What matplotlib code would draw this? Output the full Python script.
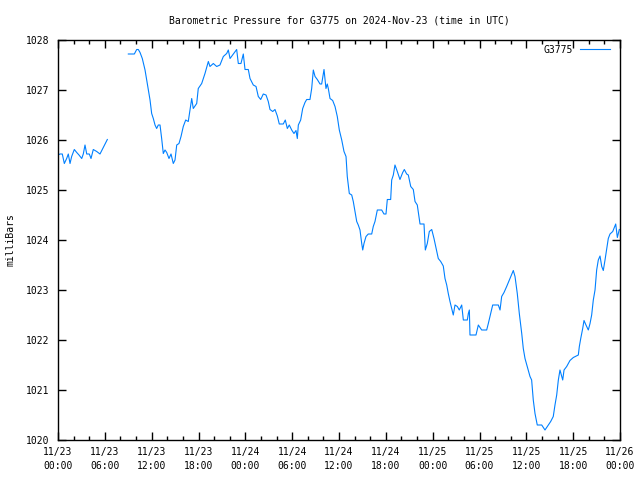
import numpy as np
import pandas as pd
import matplotlib
matplotlib.use("Agg")
import matplotlib.pyplot as plt
import matplotlib.dates as mdates

# hours since 2024-11-23 00:00 UTC, pressure in mbar (NaN = gap in record)
hours = [0.0, 0.26, 0.55, 0.81, 1.11, 1.32, 1.54, 1.75, 2.09, 2.40, 2.69, 3.04, 3.24,
         3.46, 3.68, 4.01, 4.23, 4.52, 4.96, 5.38, 5.80, 6.32,
         7.5,
         9.01, 9.78, 10.08, 10.29, 10.51, 10.80, 11.15, 11.36, 11.57, 11.79, 12.00, 12.21,
         12.43, 12.64, 12.85, 13.07, 13.28, 13.49, 13.71, 13.93, 14.22, 14.48, 14.77,
         14.99, 15.21, 15.50, 15.76, 16.05, 16.36, 16.69, 16.91, 17.13, 17.33, 17.77,
         17.97, 18.41, 18.83, 19.26, 19.47, 19.90, 20.33, 20.75, 21.18, 21.61, 21.82,
         22.04, 22.46, 22.89, 23.10, 23.44, 23.74, 23.96, 24.38, 24.60, 25.02, 25.37,
         25.66, 25.97, 26.30, 26.65, 26.94, 27.16, 27.51, 27.80, 28.10, 28.35, 28.86,
         29.12, 29.38, 29.63, 29.94, 30.23, 30.49, 30.66, 30.79, 31.09, 31.35, 31.64,
         31.86, 32.28, 32.50, 32.71, 32.93, 33.22, 33.57, 33.78, 34.08, 34.33, 34.50,
         34.63, 34.85, 35.19, 35.49, 35.78, 36.04, 36.35, 36.64, 36.90, 37.06, 37.32,
         37.63, 37.83, 38.05, 38.27, 38.47, 38.69, 38.91, 39.04, 39.20, 39.46, 39.75,
         40.19, 40.39, 40.61, 40.91, 41.47, 41.76, 42.02, 42.19, 42.62, 42.75, 42.96,
         43.17, 43.47, 43.81, 44.16, 44.37, 44.67, 44.88, 45.19, 45.52, 45.74, 46.03,
         46.38, 46.89, 47.06, 47.31, 47.57, 47.88, 48.17, 48.52, 48.72, 49.03, 49.36,
         49.58, 49.80, 50.00, 50.22, 50.44, 50.64, 50.86, 51.16, 51.41, 51.72, 51.93,
         52.44, 52.57, 52.70, 52.78, 53.55, 53.85, 54.28, 54.92, 55.13, 55.43, 55.69,
         56.41, 56.63, 56.84, 57.14, 57.48, 57.91, 58.33, 58.55, 58.84, 59.10, 59.41,
         59.61, 59.83, 60.12, 60.47, 60.68, 60.89, 61.11, 61.40, 61.97, 62.39, 62.81,
         63.12, 63.45, 63.67, 63.89, 64.10, 64.31, 64.66, 64.83, 65.17, 65.59, 66.02,
         66.66, 66.79, 66.97, 67.22, 67.39, 67.64, 67.94, 68.16, 68.37, 68.58, 68.80,
         69.01, 69.22, 69.44, 69.66, 69.86, 70.08, 70.30, 70.50, 70.72, 71.07, 71.27,
         71.45, 71.66, 71.91]

pressure = [1025.70, 1025.72, 1025.72, 1025.53, 1025.63, 1025.72, 1025.53, 1025.67, 1025.81,
            1025.75, 1025.70, 1025.63, 1025.72, 1025.90, 1025.72, 1025.72, 1025.63, 1025.81,
            1025.77, 1025.72, 1025.85, 1026.01,
            np.nan,
            1027.72, 1027.72, 1027.81, 1027.81, 1027.75, 1027.63, 1027.40, 1027.20, 1027.00,
            1026.80, 1026.53, 1026.43, 1026.30, 1026.23, 1026.30, 1026.30, 1026.03, 1025.73,
            1025.80, 1025.75, 1025.63, 1025.72, 1025.53, 1025.60, 1025.90, 1025.93, 1026.07,
            1026.27, 1026.40, 1026.37, 1026.60, 1026.83, 1026.63, 1026.73, 1027.03, 1027.13,
            1027.33, 1027.57, 1027.47, 1027.53, 1027.47, 1027.50, 1027.67, 1027.73, 1027.80,
            1027.63, 1027.72, 1027.81, 1027.53, 1027.53, 1027.72, 1027.41, 1027.41, 1027.23,
            1027.10, 1027.07, 1026.87, 1026.81, 1026.92, 1026.90, 1026.77, 1026.61, 1026.57,
            1026.61, 1026.48, 1026.32, 1026.32, 1026.40, 1026.23, 1026.30, 1026.20, 1026.13,
            1026.19, 1026.03, 1026.30, 1026.40, 1026.63, 1026.75, 1026.81, 1026.81, 1027.03,
            1027.40, 1027.27, 1027.21, 1027.12, 1027.12, 1027.41, 1027.03, 1027.12, 1027.03,
            1026.83, 1026.79, 1026.67, 1026.47, 1026.20, 1026.00, 1025.77, 1025.67, 1025.27,
            1024.93, 1024.90, 1024.77, 1024.57, 1024.37, 1024.30, 1024.20, 1023.93, 1023.80,
            1023.93, 1024.07, 1024.12, 1024.12, 1024.27, 1024.37, 1024.60, 1024.60, 1024.52,
            1024.52, 1024.81, 1024.81, 1025.20, 1025.30, 1025.50, 1025.37, 1025.21, 1025.35,
            1025.41, 1025.32, 1025.30, 1025.07, 1025.01, 1024.77, 1024.70, 1024.32, 1024.32,
            1023.80, 1023.93, 1024.17, 1024.21, 1024.03, 1023.77, 1023.63, 1023.57, 1023.48,
            1023.23, 1023.10, 1022.93, 1022.77, 1022.63, 1022.50, 1022.70, 1022.67, 1022.60,
            1022.70, 1022.40, 1022.40, 1022.53, 1022.60, 1022.10, 1022.10, 1022.30, 1022.20,
            1022.20, 1022.33, 1022.53, 1022.70, 1022.70, 1022.60, 1022.87, 1022.95, 1023.07,
            1023.23, 1023.39, 1023.27, 1022.93, 1022.53, 1022.13, 1021.83, 1021.63, 1021.47,
            1021.27, 1021.20, 1020.80, 1020.53, 1020.30, 1020.30, 1020.20, 1020.30, 1020.37,
            1020.47, 1020.70, 1020.90, 1021.20, 1021.40, 1021.20, 1021.40, 1021.47, 1021.59,
            1021.65, 1021.70, 1021.87, 1022.03, 1022.23, 1022.39, 1022.30, 1022.20, 1022.33,
            1022.50, 1022.80, 1023.00, 1023.40, 1023.60, 1023.68, 1023.47, 1023.39, 1023.60,
            1023.83, 1024.03, 1024.12, 1024.17, 1024.25, 1024.32, 1024.05, 1024.21]

start = pd.Timestamp("2024-11-23 00:00")
times = start + pd.to_timedelta(hours, unit="h")

plt.rcParams['font.family'] = ['DejaVu Sans Mono']
plt.rcParams['font.size'] = 7

fig = plt.figure(figsize=(6.4, 4.8), dpi=100)
ax = fig.add_axes([58/640, 40/480, 562/640, 400/480])

ax.plot(times, pressure, color='#0080ff', lw=0.8, label='G3775')

ax.set_xlim(start, start + pd.Timedelta(hours=72))
ax.set_ylim(1020, 1028)
ax.set_yticks(range(1020, 1029))

ax.xaxis.set_major_locator(mdates.HourLocator(byhour=[0, 6, 12, 18]))
ax.xaxis.set_major_formatter(mdates.DateFormatter('%m/%d\n%H:%M'))
ax.xaxis.set_minor_locator(mdates.HourLocator(interval=2))

ax.tick_params(which='both', direction='in', top=True, right=True, width=1, color='black')
ax.tick_params(which='major', length=6)
ax.tick_params(which='minor', length=3)
ax.tick_params(axis='x', pad=5)
ax.tick_params(axis='y', pad=6)
for lbl in ax.get_xticklabels():
    lbl.set_linespacing(1.5)

for s in ax.spines.values():
    s.set_linewidth(1.0)

ax.set_title('Barometric Pressure for G3775 on 2024-Nov-23 (time in UTC)', fontsize=7, pad=12)
ax.set_ylabel('milliBars', labelpad=8)

leg = ax.legend(loc='upper right', bbox_to_anchor=(0.99, 1.0), frameon=False,
                handlelength=3.0, handletextpad=0.8, markerfirst=False, borderaxespad=0.1)

fig.savefig('out.png', dpi=100)
